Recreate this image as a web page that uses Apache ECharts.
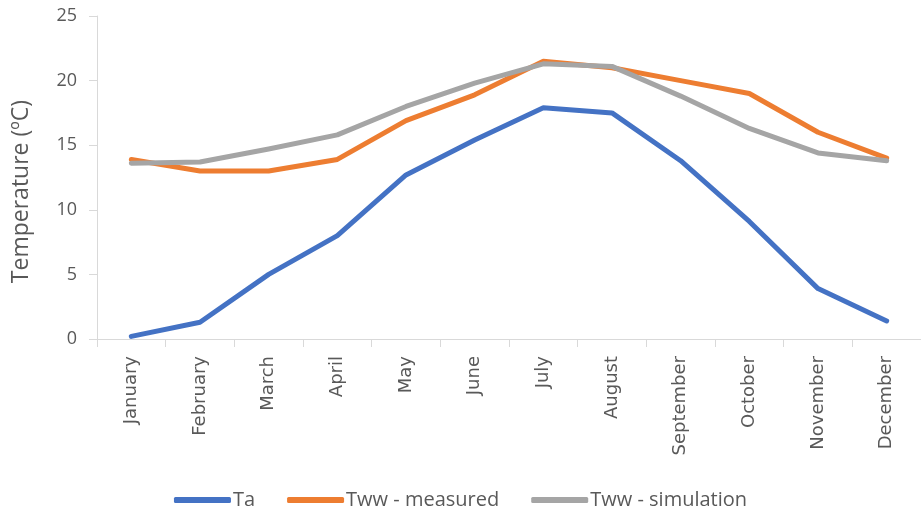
<!DOCTYPE html>
<html>
<head>
<meta charset="utf-8">
<script src="https://cdn.jsdelivr.net/npm/echarts@6/dist/echarts.min.js"></script>
<style>
  html, body { margin: 0; padding: 0; background: #fff; }
  #chart { width: 921px; height: 515px; }
</style>
</head>
<body>
<div id="chart"></div>
<script>
// months on the x axis
const months = ['January', 'February', 'March', 'April', 'May', 'June',
  'July', 'August', 'September', 'October', 'November', 'December'];

// temperatures, ºC
const ta = [0.2, 1.3, 5.0, 8.0, 12.7, 15.4, 17.9, 17.5, 13.8, 9.1, 3.9, 1.4];
const twwMeasured = [13.9, 13.0, 13.0, 13.9, 16.9, 18.9, 21.5, 21.0, 20.0, 19.0, 16.0, 14.0];
const twwSimulation = [13.6, 13.7, 14.7, 15.8, 18.0, 19.8, 21.3, 21.1, 18.8, 16.3, 14.4, 13.8];

const fontMain = '"Open Sans", "Noto Sans", sans-serif';
const textGrey = '#595959';

const chart = echarts.init(document.getElementById('chart'), null, {renderer: 'canvas'});

function lineSeries(name, data, color) {
    return {
        name: name,
        type: 'line',
        data: data,
        symbol: 'none',
        smooth: false,
        lineStyle: {width: 5, color: color, cap: 'round', join: 'round'},
        itemStyle: {color: color},
        animation: false
    };
}

chart.setOption({
    backgroundColor: '#fff',
    grid: {left: 97, right: -11, top: 16, bottom: 176},
    legend: {
        bottom: 0,
        left: 'center',
        icon: 'roundRect',
        itemWidth: 57,
        itemHeight: 6,
        itemGap: 32,
        textStyle: {fontFamily: fontMain, fontSize: 20, color: textGrey, padding: [0, 0, 0, -3]},
        data: ['Ta', 'Tww - measured', 'Tww - simulation']
    },
    xAxis: {
        type: 'category',
        data: months,
        boundaryGap: true,
        axisLine: {lineStyle: {color: '#d9d9d9', width: 1}},
        axisTick: {show: true, length: 8, lineStyle: {color: '#d9d9d9'}},
        axisLabel: {
            rotate: 90,
            margin: 17,
            fontFamily: '"DejaVu Sans", sans-serif',
            fontSize: 18,
            color: textGrey
        },
        splitLine: {show: false}
    },
    yAxis: {
        type: 'value',
        min: 0,
        max: 25,
        interval: 5,
        name: 'Temperature (ºC)',
        nameLocation: 'middle',
        nameGap: 64,
        nameTextStyle: {fontFamily: fontMain, fontSize: 23, color: textGrey, padding: [0, 28, 0, 0]},
        axisLine: {show: true, lineStyle: {color: '#d9d9d9'}},
        axisTick: {show: true, length: 8, lineStyle: {color: '#d9d9d9'}},
        axisLabel: {fontFamily: fontMain, fontSize: 18, color: textGrey, margin: 20},
        splitLine: {show: false}
    },
    series: [
        lineSeries('Ta', ta, '#4472C4'),
        lineSeries('Tww - measured', twwMeasured, '#ED7D31'),
        lineSeries('Tww - simulation', twwSimulation, '#A5A5A5')
    ]
});
</script>
</body>
</html>
